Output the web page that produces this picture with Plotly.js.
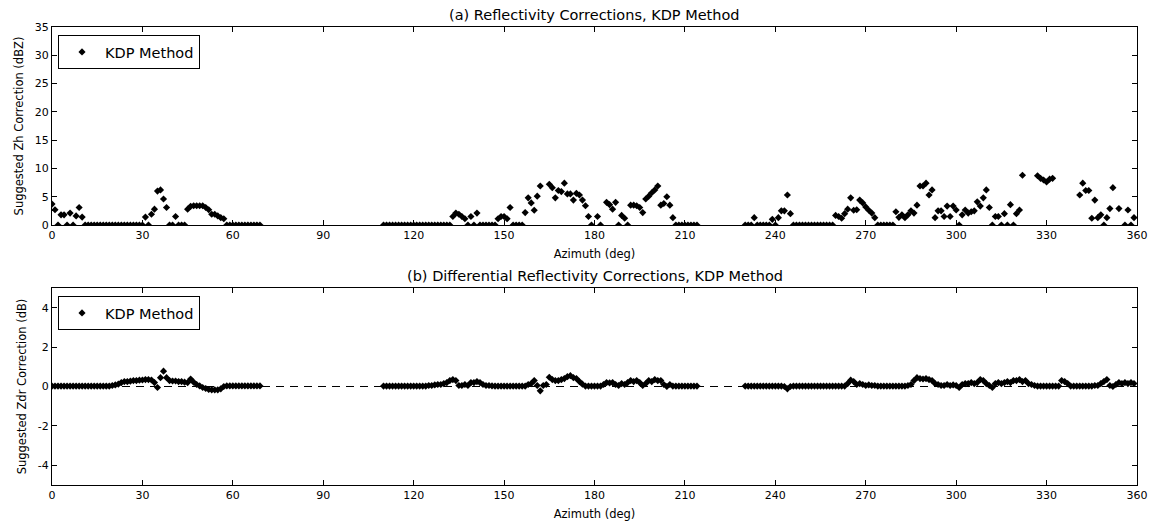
<!DOCTYPE html>
<html>
<head>
<meta charset="utf-8">
<script src="https://cdn.plot.ly/plotly-3.0.1.min.js"></script>
<style>html,body{margin:0;padding:0;background:#fff}#chart{width:1151px;height:523px}</style>
</head>
<body>
<div id="chart"></div>
<script>
// Segment start azimuths (deg); each value below is one azimuth step of 1 deg
const segStarts = [0, 110, 230];

// (a) Suggested Zh correction (dBZ), KDP method
const zhSeg1 = [3.7,2.7,0,1.8,1.8,0,2.1,0,1.6,3.1,1.4,
  0,0,0,0,0,0,0,0,0,0,0,0,0,0,0,0,0,0,0,0,
  1.4,0,1.9,2.8,6.0,6.2,4.6,3.1,0,0,1.5,0,0,0,2.8,3.3,3.4,3.4,3.4,3.4,3.1,2.7,1.9,1.9,1.6,1.3,1.1,
  0,0,0,0,0,0,0,0,0,0,0,0];
const zhSeg2 = [0,0,0,0,0,0,0,0,0,0,0,0,0,0,0,0,0,0,0,0,0,0,
  0,1.5,2.1,1.9,1.5,1.1,0,1.5,0,2.1,0,0,0,0,0,0,1.1,1.5,1.5,1.1,3.1,0,0,0,0,
  2.2,4.8,3.9,2.6,5.1,6.9,null,null,7.2,6.6,4.8,6.1,5.9,7.4,5.5,5.5,4.4,5.6,5.3,4.4,3.4,1.5,0,
  null,1.5,0,null,4.0,3.6,2.8,4.0,0,1.7,1.2,0,3.5,3.5,3.4,3.1,2.2,4.6,5.1,5.7,6.2,6.9,3.5,3.8,5.0,3.5,1.3,
  0,0,0,0,0,0,0,0];
const zhSeg3 = [0,0,0,1.3,0,0,0,0,0,1.0,0,1.3,2.5,2.5,5.3,2.0,
  0,0,0,0,0,0,0,0,0,0,0,0,0,0,
  1.7,1.5,1.2,2.0,2.8,4.8,2.6,2.7,4.4,3.9,3.2,2.6,2.1,1.3,
  0,0,0,0,0,0,
  2.35,1.35,1.8,1.3,1.8,2.5,2.1,3.5,6.9,6.9,7.4,5.3,6.2,1.3,2.5,2.5,1.5,3.35,1.5,3.35,2.65,0,1.8,2.65,2.1,2.35,2.5,4.1,3.35,4.8,6.2,3.1,0,1.5,1.5,0,2.0,0,3.6,0,2.0,2.65,8.8,
  null,null,null,null,
  8.7,8.25,7.95,7.6,8.1,8.25,
  null,null,null,null,null,null,null,null,
  5.3,7.4,6.1,6.1,1.2,4.4,1.3,1.8,0,1.3,2.9,6.6,null,2.9,null,0,2.65,0,1.3];

// (b) Suggested Zdr correction (dB), KDP method
const zdrSeg1 = [0.02,0.02,0.02,0.02,0.02,0.02,0.02,0.02,0.02,0.02,0.02,0.02,0.02,0.02,0.02,0.02,0.02,0.02,0.02,0.02,
  0.05,0.08,0.12,0.2,0.25,0.25,0.27,0.3,0.3,0.32,0.33,0.35,0.35,0.33,0.2,-0.05,0.45,0.78,0.45,0.3,0.28,0.28,0.25,0.25,0.22,0.2,0.38,0.22,0.1,0.03,-0.05,-0.1,-0.15,-0.17,-0.17,-0.17,-0.12,0.0,
  0.03,0.03,0.03,0.03,0.03,0.03,0.03,0.03,0.03,0.03,0.03,0.03];
const zdrSeg2 = [0.02,0.02,0.02,0.02,0.02,0.02,0.02,0.02,0.02,0.02,0.02,0.02,0.02,0.02,0.02,
  0.05,0.05,0.08,0.1,0.1,0.15,0.2,0.3,0.35,0.3,0.05,0.05,0.1,0.05,0.2,0.2,0.25,0.2,0.1,0.05,0.05,0.03,
  0.02,0.02,0.02,0.02,0.02,0.02,0.02,0.02,0.02,0.02,0.02,
  0.1,0.15,0.3,0.05,-0.22,0.05,0.1,0.47,0.35,0.3,0.3,0.35,0.4,0.5,0.55,0.45,0.4,0.25,0.12,
  0.02,0.02,0.02,0.02,0.02,0.02,
  0.1,0.2,0.18,0.2,0.1,0.05,0.15,0.1,0.2,0.3,0.25,0.3,0.2,0.05,0.15,0.3,0.25,0.35,0.3,0.3,0.1,0.0,0.1,
  0.02,0.02,0.02,0.02,0.02,0.02,0.02,0.02,0.02];
const zdrSeg3 = [0.02,0.02,0.02,0.02,0.02,0.02,0.02,0.02,0.02,0.02,0.02,0.02,0.02,
  0.0,-0.12,0.0,
  0.02,0.02,0.02,0.02,0.02,0.02,0.02,0.02,0.02,0.02,0.02,0.02,0.02,0.02,0.02,0.02,0.02,0.02,
  0.15,0.32,0.25,0.1,0.15,0.1,0.05,0.08,0.05,0.05,
  0.02,0.02,0.02,0.02,0.02,0.02,0.02,0.02,0.02,0.02,
  0.05,0.1,0.3,0.45,0.4,0.38,0.4,0.35,0.3,0.15,0.1,0.05,0.05,0.1,0.05,0.08,0.05,-0.05,0.1,0.15,0.15,0.2,0.15,0.2,0.35,0.3,0.15,0.05,-0.05,0.15,0.2,0.15,0.2,0.25,0.2,0.3,0.3,0.35,0.25,0.3,0.15,0.1,0.05,
  0.02,0.02,0.02,0.02,0.02,0.02,0.02,0.02,
  0.3,0.25,0.15,
  0.02,0.02,0.02,0.02,0.02,0.02,0.02,0.02,
  0.05,0.05,0.15,0.25,0.35,0.05,0.0,0.1,0.2,0.15,0.2,0.15,0.2,0.15];

const xTicks = [0,30,60,90,120,150,180,210,240,270,300,330,360];
const zhTicks = [0,5,10,15,20,25,30,35];
const zdrTicks = [-4,-2,0,2,4];

function buildSeries(segs) {
  const x = [], y = [];
  segs.forEach((seg, k) => {
    seg.forEach((v, i) => { x.push(segStarts[k] + i); y.push(v); });
  });
  return {x, y};
}
const zh = buildSeries([zhSeg1, zhSeg2, zhSeg3]);
const zdr = buildSeries([zdrSeg1, zdrSeg2, zdrSeg3]);

const FONT = 'DejaVu Sans, sans-serif';
const marker = {symbol: 'diamond', size: 5.5, color: '#000'};

const traces = [
  {x: zh.x, y: zh.y, type: 'scatter', mode: 'markers', marker, name: 'KDP Method',
   xaxis: 'x', yaxis: 'y', legend: 'legend', cliponaxis: true},
  {x: zdr.x, y: zdr.y, type: 'scatter', mode: 'markers', marker, name: 'KDP Method',
   xaxis: 'x2', yaxis: 'y2', legend: 'legend2', cliponaxis: true}
];

const xDom = [52/1151, 1137/1151];
function xAx(anchor) {
  return {domain: xDom, anchor, range: [0, 360], tickvals: xTicks, ticktext: xTicks.map(String),
    ticks: 'inside', ticklen: 5, tickcolor: '#000', showline: true, linecolor: '#000', linewidth: 1,
    mirror: 'ticks', showgrid: false, zeroline: false, automargin: false,
    tickfont: {family: FONT, size: 11, color: '#000'},
    title: {text: 'Azimuth (deg)', font: {family: FONT, size: 11.5, color: '#000'}, standoff: 8}};
}
function yAx(anchor, dom, range, tv, title) {
  return {domain: dom, anchor, range, tickvals: tv, ticktext: tv.map(String),
    ticks: 'inside', ticklen: 5, tickcolor: '#000', showline: true, linecolor: '#000', linewidth: 1,
    mirror: 'ticks', showgrid: false, zeroline: false, automargin: false,
    tickfont: {family: FONT, size: 11, color: '#000'},
    title: {text: title, font: {family: FONT, size: 11.5, color: '#000'}, standoff: 8}};
}

const legendBase = {xanchor: 'left', yanchor: 'top', bordercolor: '#000', borderwidth: 1, bgcolor: '#fff',
  font: {family: FONT, size: 14.5, color: '#000'}, x: 58/1151, itemwidth: 36};

const layout = {
  width: 1151, height: 523,
  margin: {l: 0, r: 0, t: 0, b: 0},
  paper_bgcolor: '#fff', plot_bgcolor: '#fff',
  font: {family: FONT, color: '#000'},
  showlegend: true,
  xaxis: xAx('y'),
  yaxis: yAx('x', [1 - 225/523, 1 - 27/523], [0, 35], zhTicks, 'Suggested Zh Correction (dBZ)'),
  xaxis2: xAx('y2'),
  yaxis2: yAx('x2', [1 - 485/523, 1 - 288/523], [-5, 5], zdrTicks, 'Suggested Zdr Correction (dB)'),
  legend: Object.assign({}, legendBase, {y: 1 - 35/523}),
  legend2: Object.assign({}, legendBase, {y: 1 - 296/523}),
  shapes: [{type: 'line', xref: 'x2 domain', yref: 'y2', x0: 0, x1: 1, y0: 0, y1: 0,
    line: {color: '#000', width: 1, dash: '8px,6px'}, layer: 'below'}],
  annotations: [
    {text: '(a) Reflectivity Corrections, KDP Method', xref: 'paper', yref: 'paper',
     x: (52 + 1137) / 2 / 1151, y: 1 - 27/523, xanchor: 'center', yanchor: 'bottom', yshift: 2,
     showarrow: false, font: {family: FONT, size: 14.5, color: '#000'}},
    {text: '(b) Differential Reflectivity Corrections, KDP Method', xref: 'paper', yref: 'paper',
     x: (52 + 1137) / 2 / 1151, y: 1 - 288/523, xanchor: 'center', yanchor: 'bottom', yshift: 2,
     showarrow: false, font: {family: FONT, size: 14.5, color: '#000'}}
  ]
};

Plotly.newPlot('chart', traces, layout, {displayModeBar: false, staticPlot: true});
</script>
</body>
</html>
